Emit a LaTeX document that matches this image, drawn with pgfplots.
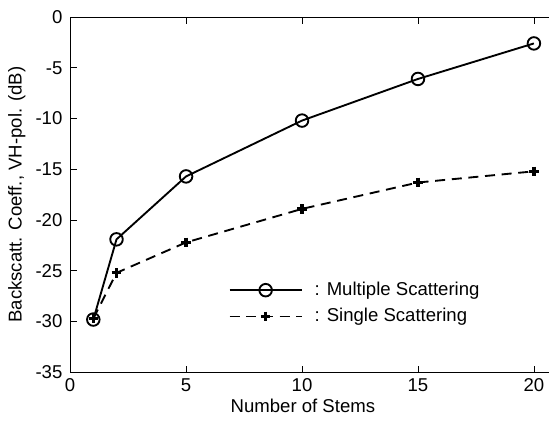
\documentclass[border=0pt]{standalone}
\usepackage{fontspec}
\setmainfont{Liberation Sans}
\usepackage{pgfplots}
\pgfplotsset{compat=1.18}

\begin{document}
\fontsize{13.9}{16}\selectfont
\begin{tikzpicture}
\begin{axis}[name=ax,
  scale only axis, width=358.5pt, height=266pt,
  at={(0,0)}, anchor=south west,
  xmin=0, xmax=20.65, ymin=-35, ymax=0,
  xtick={0,5,...,20}, ytick={-35,-30,...,0},
  axis x line=box, axis y line=left,
  axis line style={-, line width=0.6pt},
  tick align=inside, xtick pos=both, major tick length=5pt,
  tick style={line width=0.6pt, black},
  /pgf/number format/assume math mode=true,
  tick label style={font=\fontsize{13.9}{16}\selectfont},
  label style={font=\fontsize{13.9}{16}\selectfont},
  xlabel={Number of Stems}, ylabel={Backscatt. Coeff., VH-pol. (dB)},
  xlabel style={yshift=4pt, xshift=-5pt},
  ylabel style={yshift=-2pt},
  yticklabel style={xshift=-1pt},
  legend style={draw=none, fill=none, at={(axis cs:6.65,-28.2)}, anchor=west,
    font=\fontsize{13.9}{16}\selectfont, row sep=3.5pt},
  legend cell align=left,
  legend image code/.code={\draw[mark repeat=2,mark phase=2] plot coordinates {(0cm,0cm) (0.95cm,0cm) (1.9cm,0cm)};},
]
\addplot[black, line width=1.4pt, mark=o, mark size=4.7pt, mark options={solid, line width=1.4pt}]
  coordinates {(1,-29.8)(2,-21.9)(5,-15.7)(10,-10.2)(15,-6.1)(20,-2.6)};
\addlegendentry{\hspace{7pt}: Multiple Scattering}
\addplot[black, line width=1.4pt, dash pattern=on 7.5pt off 5pt, mark=+, mark size=3.6pt, mark options={solid, line width=2.4pt}]
  coordinates {(1,-29.7)(2,-25.2)(5,-22.2)(10,-18.9)(15,-16.3)(20,-15.2)};
\addlegendentry{\hspace{7pt}: Single Scattering}
\end{axis}
\pgfresetboundingbox
\path[use as bounding box] (-52.5pt,-36pt) rectangle (358.5pt,278.75pt);
\end{tikzpicture}
\end{document}
